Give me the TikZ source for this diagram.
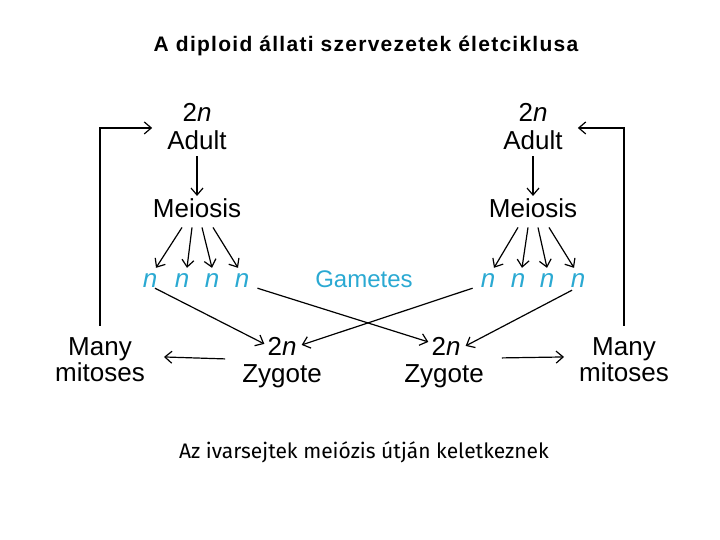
\documentclass[tikz,border=0pt]{standalone}
\usepackage{fontspec}
\setmainfont{Liberation Sans}
\newfontfamily\titlefont[LetterSpace=6]{Liberation Sans}
\newfontfamily\notefont{Fira Sans}
\usetikzlibrary{arrows.meta,calc}
\definecolor{gam}{HTML}{2AA9D2}
\tikzset{
  lbl/.style={anchor=base, inner sep=3pt, font=\fontsize{26}{28}\selectfont},
  gl/.style={lbl, text=gam},
  arr/.style={draw=black, line width=1.2pt, -{Straight Barb[length=7pt,width=12pt,line width=1.2pt]}},
  ln/.style={draw=black, line width=1.2pt}
}
\begin{document}
\begin{tikzpicture}[x=1pt,y=-1pt]
\useasboundingbox (0,0) rectangle (720,540);
% title
\node[anchor=base, inner sep=0pt, font=\titlefont\bfseries\fontsize{21}{24}\selectfont] (title) at (366,52) {A diploid állati szervezetek életciklusa};
% left adult
\node[lbl] (LA2) at (197,122) {2\textit{n}};
\node[lbl] (LA) at (197,150) {Adult};
\node[lbl] (LM) at (197,218) {Meiosis};
\node[gl] (Ln1) at (150,287) {\textit{n}};
\node[gl] (Ln2) at (182,287) {\textit{n}};
\node[gl] (Ln3) at (212,287) {\textit{n}};
\node[gl] (Ln4) at (242,287) {\textit{n}};
% right adult
\node[lbl] (RA2) at (533,122) {2\textit{n}};
\node[lbl] (RA) at (533,150) {Adult};
\node[lbl] (RM) at (533,218) {Meiosis};
\node[gl] (Rn1) at (488,287) {\textit{n}};
\node[gl] (Rn2) at (518,287) {\textit{n}};
\node[gl] (Rn3) at (547,287) {\textit{n}};
\node[gl] (Rn4) at (578,287) {\textit{n}};
% gametes
\node[gl, font=\fontsize{24}{26}\selectfont] (gam) at (364,287) {Gametes};
% mitoses
\node[lbl] (LMany) at (100,355) {Many};
\node[lbl] (Lmit) at (100,381) {mitoses};
\node[lbl] (RMany) at (624,355) {Many};
\node[lbl] (Rmit) at (624,381) {mitoses};
% zygotes
\node[lbl] (LZ2) at (282,355) {2\textit{n}};
\node[lbl] (LZ) at (282,382) {Zygote};
\node[lbl] (RZ2) at (446,355) {2\textit{n}};
\node[lbl] (RZ) at (444,382) {Zygote};
% note
\node[anchor=base, inner sep=0pt, font=\notefont\fontsize{21}{24}\selectfont] (note) at (364,458) {Az ivarsejtek meiózis útján keletkeznek};

% adult -> meiosis
\draw[arr, shorten <=3pt] (LA.south) -- (LM.north);
\draw[arr, shorten <=3pt] (RA.south) -- (RM.north);
% meiosis -> n (left)
\draw[arr] ($(LM.south)+(-15,6)$) -- ($(Ln1.north)+(6,-2)$);
\draw[arr] ($(LM.south)+(-5,6)$) -- ($(Ln2.north)+(5,-2)$);
\draw[arr] ($(LM.south)+(5,6)$) -- ($(Ln3.north)+(0,-2)$);
\draw[arr] ($(LM.south)+(16,6)$) -- ($(Ln4.north)+(-4,-2)$);
% meiosis -> n (right)
\draw[arr] ($(RM.south)+(-15,6)$) -- ($(Rn1.north)+(6,-2)$);
\draw[arr] ($(RM.south)+(-5,6)$) -- ($(Rn2.north)+(4,-2)$);
\draw[arr] ($(RM.south)+(5,6)$) -- ($(Rn3.north)+(0,-2)$);
\draw[arr] ($(RM.south)+(16,6)$) -- ($(Rn4.north)+(-4,-2)$);
% feedback loops
\coordinate (Lcorner) at (LMany.north |- LA.north west);
\coordinate (Rcorner) at (RMany.north |- RA.north east);
\draw[arr, shorten <=8pt] (LMany.north) -- (Lcorner) -- ($(LA.north west)+(-12,0)$);
\draw[arr, shorten <=8pt] (RMany.north) -- (Rcorner) -- ($(RA.north east)+(12,0)$);
% gametes -> zygotes
\draw[arr] ($(Ln1.south)+(5,-2)$) -- ($(LZ2.west)+(0,-2)$);
\draw[arr] ($(Ln4.south east)+(5,-2)$) -- ($(RZ2.west)+(0,-4)$);
\draw[arr] ($(Rn1.south west)+(-5,-2)$) -- ($(LZ2.east)+(2,-1)$);
\draw[arr] ($(Rn4.south)+(-6,0)$) -- ($(RZ2.east)+(2,0)$);
% zygote -> mitoses
\draw[arr] ($(LZ.north west)+(-14,-2)$) -- ($(Lmit.north east)+(16,-2)$);
\draw[arr] ($(RZ.north east)+(15,-3)$) -- ($(Rmit.north west)+(-12,-2)$);
\end{tikzpicture}
\end{document}
